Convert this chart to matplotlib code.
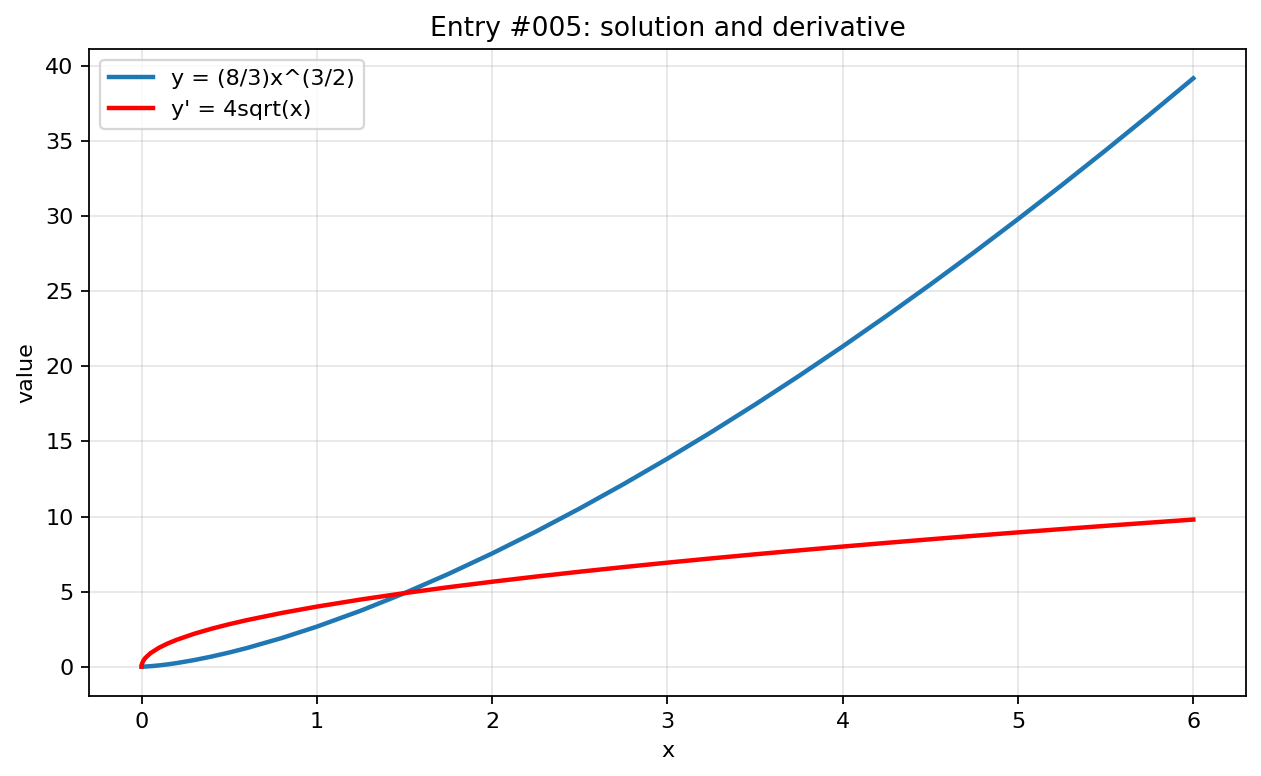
import matplotlib
matplotlib.use("Agg")
import matplotlib.pyplot as plt

# values
x_vals = [0.0, 0.001, 0.003, 0.01, 0.02, 0.05, 0.1, 0.15, 0.2, 0.3, 0.4, 0.5,
          0.6, 0.8, 1.0, 1.25, 1.5, 1.75, 2.0, 2.25, 2.5, 2.75, 3.0, 3.25,
          3.5, 3.75, 4.0, 4.25, 4.5, 4.75, 5.0, 5.25, 5.5, 5.75, 6.0]
y_vals = [0.0, 0.0001, 0.0004, 0.0027, 0.0075, 0.0298, 0.0843, 0.1549, 0.2385,
          0.4382, 0.6746, 0.9428, 1.2394, 1.9081, 2.6667, 3.7268, 4.8990,
          6.1734, 7.5425, 9.0, 10.5409, 12.1610, 13.8564, 15.6240, 17.4611,
          19.3649, 21.3333, 23.3647, 25.4558, 27.6059, 29.8142, 32.0777,
          34.3964, 36.7686, 39.1918]
dy_vals = [0.0, 0.1265, 0.2191, 0.4, 0.5657, 0.8944, 1.2649, 1.5492, 1.7889,
           2.1909, 2.5298, 2.8284, 3.0984, 3.5777, 4.0, 4.4721, 4.8990, 5.2915,
           5.6569, 6.0, 6.3246, 6.6332, 6.9282, 7.2111, 7.4833, 7.7460, 8.0,
           8.2462, 8.4853, 8.7178, 8.9443, 9.1652, 9.3808, 9.5917, 9.7980]

DPI = 160
fig, ax = plt.subplots(figsize=(1261 / DPI, 776 / DPI), dpi=DPI)
fig.subplots_adjust(left=0.0706, right=0.988, top=0.937, bottom=0.103)

ax.plot(x_vals, y_vals, linewidth=2, color="tab:blue", label="y = (8/3)x^(3/2)")
ax.plot(x_vals, dy_vals, linewidth=2, color="red", label="y' = 4sqrt(x)")

ax.set_title("Entry #005: solution and derivative")
ax.set_xlabel("x")
ax.set_ylabel("value")
ax.grid(True, alpha=0.3)
ax.legend(loc="upper left")

fig.savefig("out.png", dpi=DPI)
